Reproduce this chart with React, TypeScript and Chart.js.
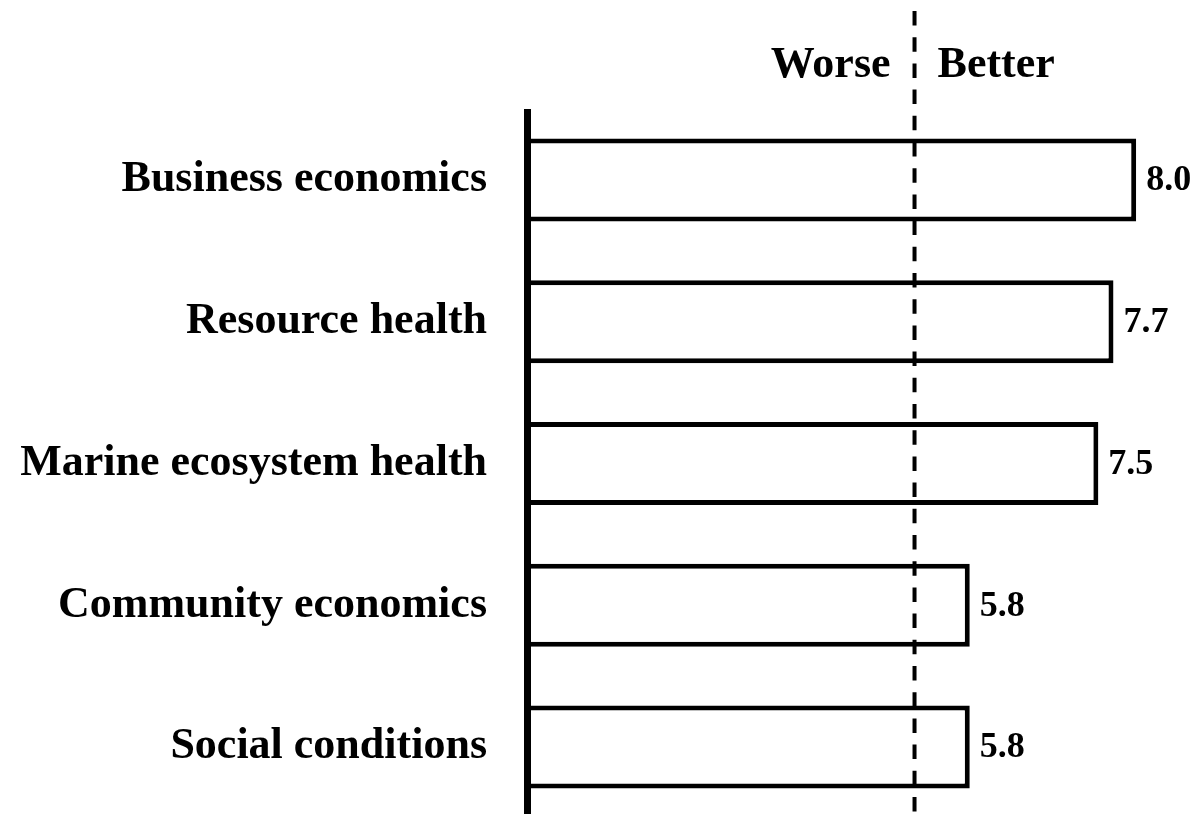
import React, { useEffect, useRef } from 'react';
import { Chart, registerables } from 'chart.js';

Chart.register(...registerables);

const categories = [
  'Business economics',
  'Resource health',
  'Marine ecosystem health',
  'Community economics',
  'Social conditions',
];
const scores = [8.0, 7.7, 7.5, 5.8, 5.8];
const valueLabels = ['8.0', '7.7', '7.5', '5.8', '5.8'];
const neutralValue = 5.07;
const sideLabels = ['Worse', 'Better'];
const xMin = 0;
const xMax = 8.5;

const FONT = '"Liberation Serif", "Times New Roman", serif';

const overlayPlugin = {
  id: 'overlay',
  afterDatasetsDraw(chart: any) {
    const { ctx, chartArea, scales } = chart;
    const xs = scales.x;
    const x0 = xs.getPixelForValue(0);
    const dashX = xs.getPixelForValue(neutralValue);
    ctx.save();
    // vertical axis line
    ctx.strokeStyle = '#000';
    ctx.lineWidth = 7;
    ctx.setLineDash([]);
    ctx.beginPath();
    ctx.moveTo(x0 - 3.5, chartArea.top);
    ctx.lineTo(x0 - 3.5, chart.height);
    ctx.stroke();
    // dashed reference line
    ctx.lineWidth = 4;
    ctx.setLineDash([14.5, 11.7]);
    ctx.beginPath();
    ctx.moveTo(dashX, 11);
    ctx.lineTo(dashX, chart.height);
    ctx.stroke();
    ctx.setLineDash([]);
    // Worse / Better
    ctx.fillStyle = '#000';
    ctx.font = `bold 44px ${FONT}`;
    ctx.textBaseline = 'alphabetic';
    ctx.textAlign = 'right';
    ctx.fillText(sideLabels[0], dashX - 24, 77);
    ctx.textAlign = 'left';
    ctx.fillText(sideLabels[1], dashX + 23, 77);
    // value labels
    const meta = chart.getDatasetMeta(0);
    ctx.font = `bold 36px ${FONT}`;
    ctx.textBaseline = 'middle';
    ctx.textAlign = 'left';
    meta.data.forEach((bar: any, i: number) => {
      ctx.fillText(valueLabels[i], bar.x + 10, bar.y + 1);
    });
    ctx.restore();
  },
};

export default function App() {
  const canvasRef = useRef<HTMLCanvasElement | null>(null);

  useEffect(() => {
    if (!canvasRef.current) return;
    const chart = new Chart(canvasRef.current, {
      type: 'bar',
      data: {
        labels: categories,
        datasets: [
          {
            data: scores,
            backgroundColor: '#ffffff',
            borderColor: '#000000',
            borderWidth: 5,
            borderSkipped: 'start',
            barPercentage: 0.585,
            categoryPercentage: 1,
          },
        ],
      },
      options: {
        indexAxis: 'y',
        animation: false,
        responsive: false,
        maintainAspectRatio: false,
        devicePixelRatio: 1,
        layout: { padding: { top: 109, right: 21, bottom: 0, left: 0 } },
        plugins: {
          legend: { display: false },
          tooltip: { enabled: false },
          title: { display: false },
        },
        scales: {
          x: {
            type: 'linear',
            min: xMin,
            max: xMax,
            display: false,
          },
          y: {
            grid: { display: false, drawTicks: false },
            border: { display: false },
            ticks: {
              color: '#000',
              padding: 44,
              font: { family: FONT, size: 44, weight: 'bold' },
            },
            afterFit: (s: any) => {
              s.width = 531;
              s.paddingTop = 0;
              s.paddingBottom = 0;
            },
          },
        },
      },
      plugins: [overlayPlugin],
    });
    return () => chart.destroy();
  }, []);

  return (
    <div
      style={{
        position: 'fixed',
        left: 0,
        top: 0,
        width: 1195,
        height: 814,
        overflow: 'hidden',
        background: '#fff',
      }}
    >
      <canvas ref={canvasRef} width={1195} height={818} style={{ display: 'block' }} />
    </div>
  );
}
